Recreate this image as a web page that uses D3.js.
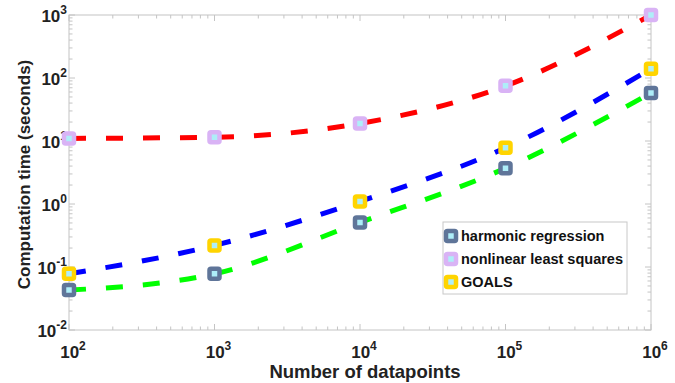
<!DOCTYPE html>
<html>
<head>
<meta charset="utf-8">
<script src="https://cdn.jsdelivr.net/npm/d3@7"></script>
<style>
  body { margin: 0; background: #fff; }
  svg { font-family: "Liberation Sans", Arial, sans-serif; }
</style>
</head>
<body>
<svg id="chart" width="675" height="383"></svg>
<script>
// data
const datapoints = [1e2, 1e3, 1e4, 1e5, 1e6];
const harmonic = [0.043, 0.078, 0.51, 3.7, 58];
const nonlinear = [11, 11.5, 19, 75, 1000];
const goals = [0.078, 0.22, 1.1, 7.8, 140];
const xTicks = [1e2, 1e3, 1e4, 1e5, 1e6];
const yTicks = [1e-2, 1e-1, 1e0, 1e1, 1e2, 1e3];

const series = [
  { name: 'harmonic regression', values: harmonic, line: '#00ff00', marker: '#5f7599' },
  { name: 'nonlinear least squares', values: nonlinear, line: '#ff0000', marker: '#d9b3f5' },
  { name: 'GOALS', values: goals, line: '#0000ff', marker: '#ffd400' },
];

const plotLeft = 69, plotRight = 651, plotTop = 15, plotBottom = 330;
const svg = d3.select('#chart');

const x = d3.scaleLog().domain([1e2, 1e6]).range([plotLeft, plotRight]);
const y = d3.scaleLog().domain([1e-2, 1e3]).range([plotBottom, plotTop]);

const axisColor = '#c4c4c4';

// minor + major ticks, drawn inward on all four sides
function minorTicks(scale) {
  const [a, b] = scale.domain();
  const out = [];
  for (let e = Math.round(Math.log10(a)); e < Math.round(Math.log10(b)); e++) {
    for (let k = 2; k <= 9; k++) out.push(k * Math.pow(10, e));
  }
  return out;
}

const gAxes = svg.append('g');
gAxes.append('rect')
  .attr('x', plotLeft).attr('y', plotTop)
  .attr('width', plotRight - plotLeft).attr('height', plotBottom - plotTop)
  .attr('fill', 'none').attr('stroke', axisColor).attr('stroke-width', 1);

const xAll = xTicks.map(v => ({ v, len: 6 })).concat(minorTicks(x).map(v => ({ v, len: 3.5 })));
const yAll = yTicks.map(v => ({ v, len: 6 })).concat(minorTicks(y).map(v => ({ v, len: 3.5 })));

gAxes.append('g').selectAll('line').data(xAll).join('line')
  .attr('x1', d => x(d.v)).attr('x2', d => x(d.v))
  .attr('y1', plotBottom).attr('y2', d => plotBottom - d.len)
  .attr('stroke', axisColor);
gAxes.append('g').selectAll('line').data(xAll).join('line')
  .attr('x1', d => x(d.v)).attr('x2', d => x(d.v))
  .attr('y1', plotTop).attr('y2', d => plotTop + d.len)
  .attr('stroke', axisColor);
gAxes.append('g').selectAll('line').data(yAll).join('line')
  .attr('y1', d => y(d.v)).attr('y2', d => y(d.v))
  .attr('x1', plotLeft).attr('x2', d => plotLeft + d.len)
  .attr('stroke', axisColor);
gAxes.append('g').selectAll('line').data(yAll).join('line')
  .attr('y1', d => y(d.v)).attr('y2', d => y(d.v))
  .attr('x1', plotRight).attr('x2', d => plotRight - d.len)
  .attr('stroke', axisColor);

// tick labels with superscript exponents
function powLabel(sel) {
  sel.each(function (d) {
    const t = d3.select(this);
    t.append('tspan').text('10');
    t.append('tspan').attr('dy', -8).attr('font-size', 12).text(Math.round(Math.log10(d)));
  });
}

svg.append('g').selectAll('text').data(xTicks).join('text')
  .attr('x', d => x(d) + 4).attr('y', plotBottom + 28)
  .attr('text-anchor', 'middle')
  .attr('font-size', 17).attr('font-weight', 'bold').attr('fill', '#222')
  .call(powLabel);

svg.append('g').selectAll('text').data(yTicks).join('text')
  .attr('x', plotLeft - 2).attr('y', d => y(d) + 7)
  .attr('text-anchor', 'end')
  .attr('font-size', 17).attr('font-weight', 'bold').attr('fill', '#222')
  .call(powLabel);

svg.append('text')
  .attr('x', 365).attr('y', 378)
  .attr('text-anchor', 'middle')
  .attr('font-size', 18.5).attr('font-weight', 'bold').attr('fill', '#222')
  .text('Number of datapoints');

svg.append('text')
  .attr('transform', `translate(30,${(plotTop + plotBottom) / 2 + 2}) rotate(-90)`)
  .attr('text-anchor', 'middle')
  .attr('font-size', 17).attr('font-weight', 'bold').attr('fill', '#222')
  .text('Computation time (seconds)');

// lines
const line = d3.line()
  .x((d, i) => x(datapoints[i]))
  .y(d => y(d))
  .curve(d3.curveMonotoneX);

const gLines = svg.append('g');
series.forEach(s => {
  gLines.append('path')
    .attr('d', line(s.values))
    .attr('fill', 'none')
    .attr('stroke', s.line)
    .attr('stroke-width', 5)
    .attr('stroke-dasharray', '17,20');
});

// markers
function marker(g, cx, cy, color) {
  g.append('rect')
    .attr('x', cx - 5).attr('y', cy - 5)
    .attr('width', 10).attr('height', 10)
    .attr('rx', 1.5)
    .attr('fill', '#aeeef8')
    .attr('stroke', color).attr('stroke-width', 4.5);
}
const gMarks = svg.append('g');
series.forEach(s => {
  s.values.forEach((v, i) => marker(gMarks, x(datapoints[i]), y(v), s.marker));
});

// legend
const lg = svg.append('g');
lg.append('rect')
  .attr('x', 443).attr('y', 222).attr('width', 184).attr('height', 72)
  .attr('fill', '#fff').attr('stroke', '#c8c8c8');
series.forEach((s, i) => {
  const cy = 236 + i * 23;
  marker(lg, 451, cy, s.marker);
  lg.append('text')
    .attr('x', 461).attr('y', cy + 5)
    .attr('font-size', 14.5).attr('font-weight', 'bold').attr('fill', '#111')
    .text(s.name);
});
</script>
</body>
</html>
